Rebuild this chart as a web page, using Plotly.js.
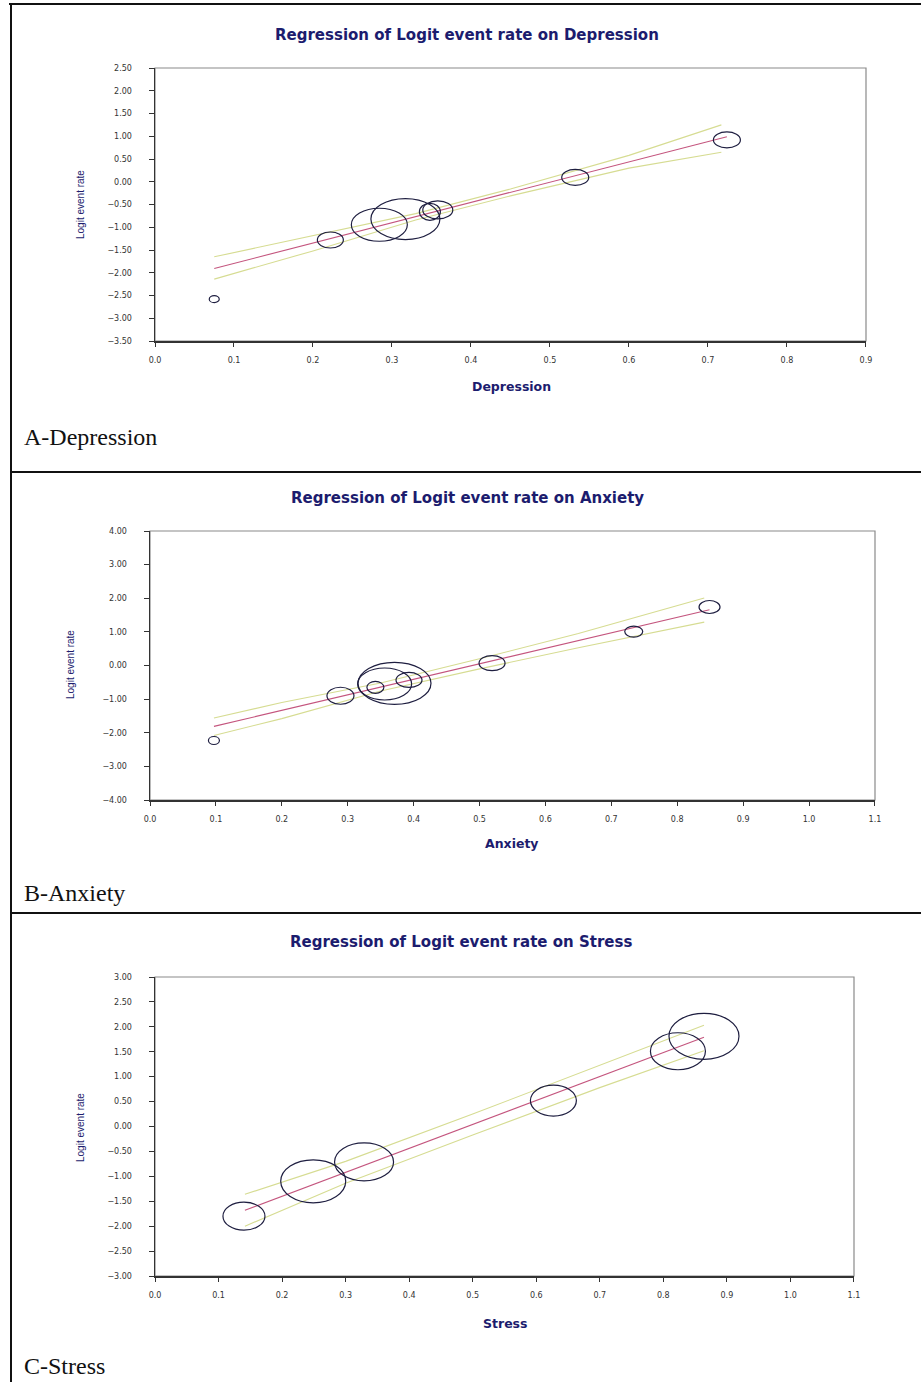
<!DOCTYPE html>
<html>
<head>
<meta charset="utf-8">
<script src="https://cdn.plot.ly/plotly-3.0.1.min.js"></script>
<style>html,body{margin:0;padding:0;background:#fff;}#chart{width:921px;height:1382px;}</style>
</head>
<body>
<div id="chart"></div>
<script>
// ---------- Data ----------
// A - Depression
var depX = [0.075, 0.222, 0.284, 0.317, 0.348, 0.358, 0.532, 0.724];
var depY = [-2.58, -1.28, -0.945, -0.82, -0.66, -0.62, 0.095, 0.92];
var depFitX = [0.075, 0.724];
var depFitY = [-1.905, 0.99];
var depCiX = [0.075, 0.2, 0.33, 0.45, 0.6, 0.717];
var depUpper = [-1.65, -1.18, -0.70, -0.16, 0.58, 1.25];
var depLower = [-2.14, -1.52, -0.84, -0.31, 0.30, 0.65];

// B - Anxiety
var anxX = [0.097, 0.289, 0.342, 0.356, 0.371, 0.393, 0.519, 0.734, 0.849];
var anxY = [-2.23, -0.90, -0.65, -0.55, -0.53, -0.43, 0.07, 1.01, 1.74];
var anxFitX = [0.097, 0.849];
var anxFitY = [-1.81, 1.66];
var anxCiX = [0.097, 0.2, 0.35, 0.5, 0.65, 0.841];
var anxUpper = [-1.56, -1.10, -0.52, 0.20, 0.95, 2.01];
var anxLower = [-2.08, -1.58, -0.76, -0.10, 0.53, 1.29];

// C - Stress
var strX = [0.140, 0.249, 0.329, 0.627, 0.823, 0.864];
var strY = [-1.80, -1.10, -0.71, 0.52, 1.51, 1.81];
var strFitX = [0.1415, 0.864];
var strFitY = [-1.68, 1.79];
var strCiX = [0.1415, 0.3, 0.5, 0.7, 0.864];
var strUpper = [-1.36, -0.70, 0.25, 1.22, 2.03];
var strLower = [-2.00, -1.14, -0.17, 0.78, 1.52];

// Axis tick settings
var depYTicks = {range: [-3.5, 2.5], dtick: 0.5};
var anxYTicks = {range: [-4, 4], dtick: 1};
var strYTicks = {range: [-3, 3], dtick: 0.5};

// ---------- Styles (bubble sizes in px: width, height) ----------
var depBubW = [10, 26, 56, 69, 21, 30, 27, 27];
var depBubH = [7, 16, 33, 41, 17, 18, 16, 16];
var anxBubW = [11, 27, 17, 54, 73, 26, 26, 18, 21];
var anxBubH = [8, 17, 12, 32, 42, 15, 15, 11, 13];
var strBubW = [42, 65, 59, 46, 55, 70];
var strBubH = [28, 43, 38, 31, 37, 46];

var W = 921, H = 1382;
function px(x) { return x / W; }
function py(y) { return 1 - y / H; }

var navy = '#1c1c6e';
var fitColor = '#c4557e';
var ciColor = '#d6dc92';
var bubbleColor = '#1e1e40';

var panels = [
  {xs: depX, ys: depY, fx: depFitX, fy: depFitY, cx: depCiX, up: depUpper, lo: depLower, bw: depBubW, bh: depBubH, ax: '', name: 'Depression'},
  {xs: anxX, ys: anxY, fx: anxFitX, fy: anxFitY, cx: anxCiX, up: anxUpper, lo: anxLower, bw: anxBubW, bh: anxBubH, ax: '2', name: 'Anxiety'},
  {xs: strX, ys: strY, fx: strFitX, fy: strFitY, cx: strCiX, up: strUpper, lo: strLower, bw: strBubW, bh: strBubH, ax: '3', name: 'Stress'}
];

var traces = [];
var shapes = [];
panels.forEach(function (p) {
  var xa = 'x' + p.ax, ya = 'y' + p.ax;
  traces.push({x: p.cx, y: p.up, xaxis: xa, yaxis: ya, mode: 'lines', line: {color: ciColor, width: 1.1}, hoverinfo: 'skip'});
  traces.push({x: p.cx, y: p.lo, xaxis: xa, yaxis: ya, mode: 'lines', line: {color: ciColor, width: 1.1}, hoverinfo: 'skip'});
  traces.push({x: p.fx, y: p.fy, xaxis: xa, yaxis: ya, mode: 'lines', line: {color: fitColor, width: 1.1}, hoverinfo: 'skip'});
  traces.push({x: p.xs, y: p.ys, xaxis: xa, yaxis: ya, mode: 'markers', name: p.name,
    marker: {size: 4, color: 'rgba(0,0,0,0)'}});
  // bubbles: ellipses anchored at each data point
  for (var i = 0; i < p.xs.length; i++) {
    shapes.push({type: 'circle', xref: xa, yref: ya,
      xsizemode: 'pixel', ysizemode: 'pixel', xanchor: p.xs[i], yanchor: p.ys[i],
      x0: -p.bw[i] / 2, x1: p.bw[i] / 2, y0: -p.bh[i] / 2, y1: p.bh[i] / 2,
      line: {color: bubbleColor, width: 1.2}, fillcolor: 'rgba(0,0,0,0)'});
  }
  // light plot box
  shapes.push({type: 'rect', xref: xa + ' domain', yref: ya + ' domain', x0: 0, x1: 1, y0: 0, y1: 1,
    line: {color: '#8a8a8a', width: 1.2}, layer: 'below'});
});

// outer frame / separators
var frameLine = {color: '#111', width: 2};
shapes.push({type: 'line', xref: 'paper', yref: 'paper', x0: px(9), x1: 1, y0: py(4), y1: py(4), line: frameLine});
shapes.push({type: 'line', xref: 'paper', yref: 'paper', x0: px(11), x1: px(11), y0: py(4), y1: 0, line: frameLine});
shapes.push({type: 'line', xref: 'paper', yref: 'paper', x0: px(11), x1: 1, y0: py(472), y1: py(472), line: frameLine});
shapes.push({type: 'line', xref: 'paper', yref: 'paper', x0: px(11), x1: 1, y0: py(913), y1: py(913), line: frameLine});

var tickFont = {family: 'DejaVu Sans, Verdana, sans-serif', size: 8, color: '#333'};
function xAxis(domain, range, anchor) {
  return {domain: domain, range: range, dtick: 0.1, tick0: 0, tickformat: '.1f', anchor: anchor,
    showgrid: false, zeroline: false, showline: true, linecolor: '#333', linewidth: 1.5,
    ticks: 'outside', ticklen: 4, tickcolor: '#333', tickfont: tickFont, ticklabelstandoff: 7, fixedrange: true};
}
function yAxis(domain, t, anchor) {
  return {domain: domain, range: t.range, dtick: t.dtick, tick0: 0, tickformat: '.2f', anchor: anchor,
    showgrid: false, zeroline: false, showline: true, linecolor: '#333', linewidth: 1.5,
    ticks: 'outside', ticklen: 5, tickcolor: '#333', tickfont: tickFont, ticklabelstandoff: 15, fixedrange: true};
}

var titleFont = {family: 'DejaVu Sans, Verdana, sans-serif', size: 15, color: navy, weight: 'bold'};
var axTitleFont = {family: 'DejaVu Sans, Verdana, sans-serif', size: 12.5, color: navy, weight: 'bold'};
var yTitleFont = {family: 'Liberation Sans Narrow, Liberation Sans, Arial, sans-serif', size: 10, color: navy};
var panelFont = {family: 'Liberation Serif, Times New Roman, serif', size: 24, color: '#111'};

function ann(text, x, y, font, extra) {
  var a = {text: text, x: px(x), y: py(y), xref: 'paper', yref: 'paper', showarrow: false,
    xanchor: 'center', yanchor: 'middle', font: font};
  for (var k in extra) a[k] = extra[k];
  return a;
}

var annotations = [
  ann('Regression of Logit event rate on Depression', 467, 35, titleFont),
  ann('Depression', 511, 386, axTitleFont),
  ann('Logit event rate', 80, 205, yTitleFont, {textangle: -90}),
  ann('A-Depression', 22, 437, panelFont, {xanchor: 'left'}),

  ann('Regression of Logit event rate on Anxiety', 467, 498, titleFont),
  ann('Anxiety', 512, 843, axTitleFont),
  ann('Logit event rate', 70, 665, yTitleFont, {textangle: -90}),
  ann('B-Anxiety', 22, 893, panelFont, {xanchor: 'left'}),

  ann('Regression of Logit event rate on Stress', 461, 942, titleFont),
  ann('Stress', 505, 1323, axTitleFont),
  ann('Logit event rate', 80, 1128, yTitleFont, {textangle: -90}),
  ann('C-Stress', 22, 1366, panelFont, {xanchor: 'left'})
];

var layout = {
  width: W, height: H, margin: {l: 0, r: 0, t: 0, b: 0},
  paper_bgcolor: '#fff', plot_bgcolor: '#fff', showlegend: false,
  xaxis: xAxis([px(155), px(866)], [0, 0.9001], 'y'),
  yaxis: yAxis([py(341), py(68)], depYTicks, 'x'),
  xaxis2: xAxis([px(150), px(875)], [0, 1.1001], 'y2'),
  yaxis2: yAxis([py(800), py(531)], anxYTicks, 'x2'),
  xaxis3: xAxis([px(155), px(854)], [0, 1.1001], 'y3'),
  yaxis3: yAxis([py(1276), py(977)], strYTicks, 'x3'),
  shapes: shapes,
  annotations: annotations
};

Plotly.newPlot('chart', traces, layout, {displayModeBar: false, staticPlot: true});
</script>
</body>
</html>
